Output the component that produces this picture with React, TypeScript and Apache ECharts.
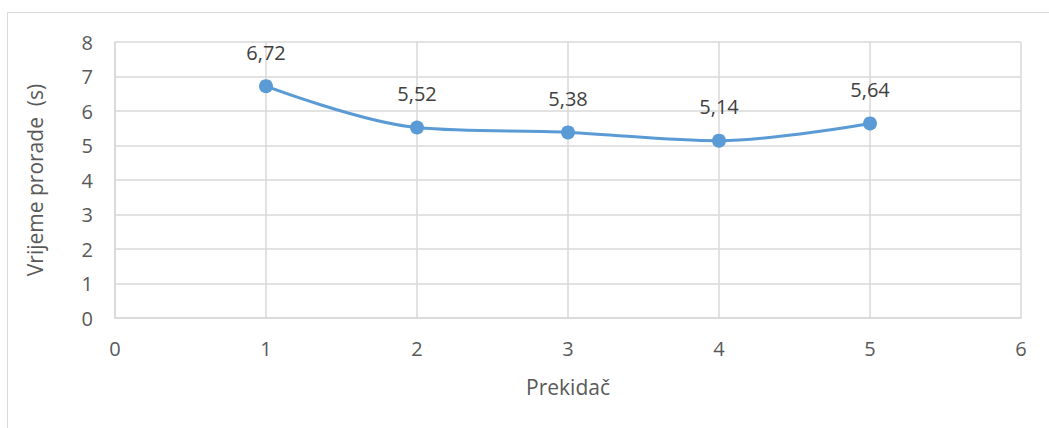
import React, { useEffect, useRef } from "react";
import * as echarts from "echarts";

const xValues = [1, 2, 3, 4, 5];
const yValues = [6.72, 5.52, 5.38, 5.14, 5.64];
const xAxisName = "Prekidač";
const yAxisName = "Vrijeme prorade  (s)";

export default function App() {
  const ref = useRef<HTMLDivElement>(null);
  useEffect(() => {
    document.body.style.margin = "0";
    const chart = echarts.init(ref.current!, null, { renderer: "svg" });
    const font = "'Open Sans', 'Liberation Sans', sans-serif";
    chart.setOption({
      animation: false,
      backgroundColor: "#ffffff",
      textStyle: { fontFamily: font },
      graphic: [
        {
          type: "rect",
          shape: { x: 7.5, y: 12.5, width: 1200, height: 600 },
          style: { fill: "none", stroke: "#d9d9d9", lineWidth: 1 },
          silent: true,
        },
      ],
      grid: { left: 115, top: 42, right: 28, bottom: 110 },
      xAxis: {
        type: "value",
        min: 0,
        max: 6,
        interval: 1,
        name: xAxisName,
        nameLocation: "middle",
        nameGap: 58,
        nameTextStyle: { fontSize: 21, color: "#595959", fontFamily: font },
        axisLine: { show: true, lineStyle: { color: "#d9d9d9", width: 1.5 } },
        axisTick: { show: false },
        axisLabel: { fontSize: 20, color: "#595959", margin: 20, fontFamily: font },
        splitLine: { show: true, lineStyle: { color: "#d9d9d9", width: 1.5 } },
      },
      yAxis: {
        type: "value",
        min: 0,
        max: 8,
        interval: 1,
        name: yAxisName,
        nameLocation: "middle",
        nameGap: 70,
        nameRotate: 90,
        nameTextStyle: { fontSize: 21, color: "#595959", fontFamily: font },
        axisLine: { show: true, lineStyle: { color: "#d9d9d9", width: 1.5 } },
        axisTick: { show: false },
        axisLabel: { fontSize: 20, color: "#595959", margin: 22, fontFamily: font },
        splitLine: { show: true, lineStyle: { color: "#d9d9d9", width: 1.5 } },
      },
      series: [
        {
          type: "line",
          data: xValues.map((x, i) => [x, yValues[i]]),
          smooth: 0.35,
          symbol: "circle",
          symbolSize: 14,
          lineStyle: { color: "#5b9bd5", width: 3 },
          itemStyle: { color: "#5b9bd5" },
          label: {
            show: true,
            position: "top",
            distance: 17,
            fontSize: 20,
            color: "#404040",
            fontFamily: font,
            formatter: (p: any) => p.value[1].toFixed(2).replace(".", ","),
          },
        },
      ],
    });
    return () => chart.dispose();
  }, []);
  return <div ref={ref} style={{ width: 1049, height: 428 }} />;
}
